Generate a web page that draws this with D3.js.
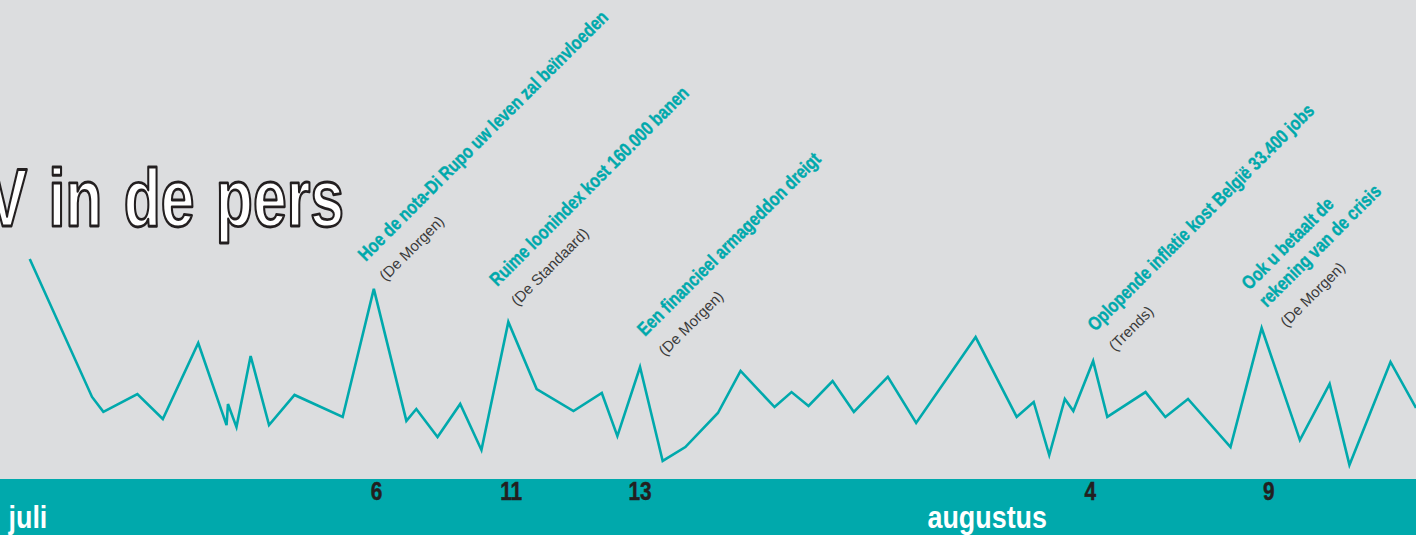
<!DOCTYPE html>
<html>
<head>
<meta charset="utf-8">
<script src="https://cdn.jsdelivr.net/npm/d3@7"></script>
<style>
  html, body { margin: 0; padding: 0; background: #dcdddf; overflow: hidden; }
  svg { display: block; }
</style>
</head>
<body>
<script>
// ---- data ----
// position along the timeline (0 = left edge, 100 = right edge)
const positions = [2.1, 6.5, 7.3, 9.7, 11.5, 14.0, 16.0, 16.1, 16.7, 17.7, 19.0, 20.8, 24.2, 26.4,
  28.7, 29.4, 30.9, 32.5, 34.0, 35.9, 37.9, 40.5, 42.5, 43.6, 45.2, 46.8, 48.4, 50.7, 52.3,
  54.7, 55.9, 57.1, 58.8, 60.3, 62.7, 64.7, 68.9, 71.8, 73.0, 74.1, 75.2, 75.8, 77.2, 78.2,
  80.9, 82.3, 83.9, 86.9, 89.1, 91.8, 93.9, 95.3, 98.2, 100];
// relative press attention
const values = [100, 37.3, 30.5, 38.6, 27.3, 61.8, 24.5, 34.1, 23.6, 55.9, 24.5, 38.2, 28.2, 86.4,
  26.4, 31.8, 19.1, 34.1, 13.2, 71.4, 40.9, 30.9, 39.1, 19.5, 50.9, 8.2, 14.5, 30.0, 49.1,
  32.7, 39.5, 33.2, 44.5, 30.5, 46.4, 25.5, 64.5, 28.2, 35.0, 10.9, 36.4, 30.9, 53.6, 28.2,
  39.5, 28.2, 36.4, 14.5, 68.6, 17.7, 43.2, 6.4, 53.2, 32.3];

const dayTickLabels = ["6", "11", "13", "4", "9"];
const dayTickPositions = [26.6, 36.1, 45.2, 77.0, 89.6];
const monthLabels = ["juli", "augustus"];
const monthPositions = [0.6, 65.5];

const headlineIndex = [13, 19, 24, 42, 48];
const headlines = [
  ["Hoe de nota-Di Rupo uw leven zal beïnvloeden"],
  ["Ruime loonindex kost 160.000 banen"],
  ["Een financieel armageddon dreigt"],
  ["Oplopende inflatie kost België 33.400 jobs"],
  ["Ook u betaalt de", "rekening van de crisis"]
];
const sources = ["(De Morgen)", "(De Standaard)", "(De Morgen)", "(Trends)", "(De Morgen)"];
const titleText = "V in de pers";

// ---- layout (styling, not data) ----
const W = 1416, H = 535;
const bandTop = 479;
const teal = "#00a9ac";
const labelOffsets = [[-8, -27], [-11, -35], [5, -30], [2, -29], [5, -20]];
const sans = "'Liberation Sans', Arial, Helvetica, sans-serif";

const svg = d3.select("body").append("svg").attr("width", W).attr("height", H);
svg.append("rect").attr("width", W).attr("height", H).attr("fill", "#dcdddf");

const x = d3.scaleLinear().domain([0, 100]).range([0, W]);
const y = d3.scaleLinear().domain([0, 100]).range([bandTop, 259]);

// condensed typeface emulation
function condensedText(parent, tx, ty, squeeze) {
  const g = parent.append("g").attr("transform", `translate(${tx},${ty}) scale(${squeeze},1)`);
  return g.append("text").attr("x", 0).attr("y", 0).attr("font-family", sans);
}

// title
condensedText(svg, 344, 226, 0.74)
  .attr("text-anchor", "end")
  .attr("font-size", 82)
  .attr("font-weight", "bold")
  .attr("word-spacing", 6)
  .attr("fill", "#ffffff")
  .attr("stroke", "#231f20")
  .attr("stroke-width", 2.8)
  .attr("stroke-linejoin", "round")
  .text(titleText);

// band
svg.append("rect").attr("x", 0).attr("y", bandTop).attr("width", W).attr("height", H - bandTop).attr("fill", teal);

// line
const data = positions.map((p, i) => ({ p, v: values[i] }));
svg.append("path")
  .datum(data)
  .attr("fill", "none")
  .attr("stroke", teal)
  .attr("stroke-width", 2.6)
  .attr("stroke-linejoin", "miter")
  .attr("d", d3.line().x(d => x(d.p)).y(d => y(d.v)));

// annotations
headlineIndex.forEach((idx, k) => {
  const d = data[idx];
  const [dx, dy] = labelOffsets[k];
  const g = svg.append("g")
    .attr("transform", `translate(${x(d.p) + dx},${y(d.v) + dy}) rotate(-45)`);
  const lines = headlines[k];
  lines.forEach((ln, j) => {
    condensedText(g, 0, -(lines.length - 1 - j) * 24.5, 0.82)
      .attr("font-weight", "bold")
      .attr("font-size", 19)
      .attr("fill", teal)
      .attr("stroke", teal)
      .attr("stroke-width", 0.4)
      .text(ln);
  });
  g.append("text")
    .attr("x", 0).attr("y", 28)
    .attr("font-family", sans)
    .attr("font-size", 15)
    .attr("fill", "#3a3a3a")
    .text(sources[k]);
});

// x axis labels (day numbers)
const axisG = svg.append("g");
dayTickLabels.forEach((lab, i) => {
  condensedText(axisG, x(dayTickPositions[i]), 500, 0.8)
    .attr("text-anchor", "middle")
    .attr("font-weight", "bold")
    .attr("font-size", 26)
    .attr("fill", "#231f20")
    .attr("stroke", "#231f20")
    .attr("stroke-width", 0.5)
    .text(lab);
});
monthLabels.forEach((lab, i) => {
  condensedText(axisG, x(monthPositions[i]), 528, 0.84)
    .attr("font-weight", "bold")
    .attr("font-size", 32)
    .attr("fill", "#ffffff")
    .text(lab);
});
</script>
</body>
</html>
